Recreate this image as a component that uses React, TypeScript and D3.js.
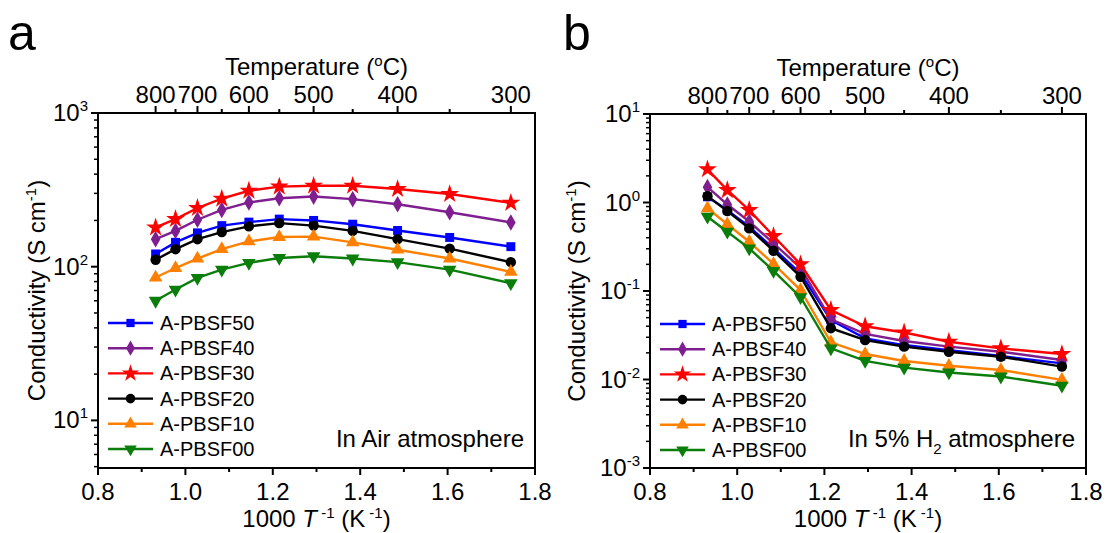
import React from "react";
import * as d3 from "d3";

const temps = [800, 750, 700, 650, 600, 550, 500, 450, 400, 350, 300];
const seriesNames = ["A-PBSF50", "A-PBSF40", "A-PBSF30", "A-PBSF20", "A-PBSF10", "A-PBSF00"];
const seriesColors = ["#0000ff", "#7f1f8f", "#ff0000", "#000000", "#ff8000", "#0a7d0a"];

const airPBSF50 = [121, 144, 166, 185, 195, 204, 200, 189, 172, 155, 135];
const airPBSF40 = [151, 171, 202, 234, 262, 279, 286, 275, 255, 226, 194];
const airPBSF30 = [180, 204, 241, 277, 312, 332, 336, 336, 320, 297, 260];
const airPBSF20 = [111, 130, 151, 168, 183, 192, 185, 171, 151, 131, 107];
const airPBSF10 = [85, 98, 113, 130, 146, 156, 157, 144, 129, 113, 92.5];
const airPBSF00 = [60, 71, 84.5, 95.7, 106, 114, 117, 113, 107, 95.7, 78];

const h2PBSF50 = [1.16, 0.82, 0.533, 0.303, 0.158, 0.047, 0.0292, 0.0245, 0.0215, 0.0184, 0.0152];
const h2PBSF40 = [1.49, 0.95, 0.61, 0.346, 0.183, 0.0479, 0.0327, 0.0272, 0.0235, 0.0206, 0.0166];
const h2PBSF30 = [2.37, 1.38, 0.82, 0.418, 0.2, 0.061, 0.04, 0.034, 0.0267, 0.0225, 0.0194];
const h2PBSF20 = [1.18, 0.8, 0.51, 0.285, 0.145, 0.038, 0.0279, 0.0235, 0.0206, 0.0181, 0.014];
const h2PBSF10 = [0.86, 0.567, 0.36, 0.202, 0.1026, 0.0263, 0.0194, 0.0162, 0.0143, 0.0128, 0.0099];
const h2PBSF00 = [0.69, 0.468, 0.303, 0.169, 0.085, 0.0225, 0.0162, 0.0136, 0.012, 0.0108, 0.0085];

const bottomTicks = [0.8, 1.0, 1.2, 1.4, 1.6, 1.8];
const bottomMinor = [0.9, 1.1, 1.3, 1.5, 1.7];
const topMajor = [800, 700, 600, 500, 400, 300];
const topMinor = [750, 650, 550, 450, 350];

const symbolTypes = [d3.symbolSquare, d3.symbolDiamond, d3.symbolStar, d3.symbolCircle, d3.symbolTriangle, d3.symbolTriangle];
const symbolSizes = [80, 80, 110, 85, 80, 80];

const FONT = "'Liberation Sans', Arial, Helvetica, sans-serif";
const FS = 24;
const SUP = 15;

function Marker({ i, x, y, scale = 1 }: { i: number; x: number; y: number; scale?: number }) {
  const path = d3.symbol().type(symbolTypes[i]).size(symbolSizes[i] * scale)() as string;
  const rot = i === 5 ? 180 : 0;
  return <path d={path} transform={`translate(${x},${y}) rotate(${rot})`} fill={seriesColors[i]} stroke="none" />;
}

function Panel({
  left, right, top, bottom, yDomain, decades, data, note, letter, letterX, yLabelX,
}: {
  left: number; right: number; top: number; bottom: number; yDomain: [number, number];
  decades: number[]; data: number[][]; note: React.ReactNode; letter: string; letterX: number; yLabelX: number;
}) {
  const x = d3.scaleLinear().domain([0.8, 1.8]).range([left, right]);
  const y = d3.scaleLog().domain(yDomain).range([bottom, top]);
  const invT = (t: number) => 1000 / (t + 273.15);
  const minorY: number[] = [];
  for (let e = Math.floor(Math.log10(yDomain[0])); e < Math.log10(yDomain[1]); e++) {
    for (let m = 2; m <= 9; m++) {
      const v = m * Math.pow(10, e);
      if (v >= yDomain[0] && v <= yDomain[1]) minorY.push(v);
    }
  }
  const line = d3.line<number>().x((_, k) => x(invT(temps[k]))).y((v) => y(v));
  const cx = (left + right) / 2;
  const legendX = left + 10;
  const legendY0 = top + 210;
  const legendStep = 25.2;
  return (
    <g fontFamily={FONT}>
      <text x={letterX} y={50} fontSize={50} fill="#000">{letter}</text>
      <rect x={left} y={top} width={right - left} height={bottom - top} fill="none" stroke="#000" strokeWidth={2} />
      {bottomTicks.map((t) => (
        <g key={"b" + t}>
          <line x1={x(t)} x2={x(t)} y1={bottom} y2={bottom + 7} stroke="#000" strokeWidth={2} />
          <text x={x(t)} y={bottom + 32} fontSize={FS} textAnchor="middle">{t.toFixed(1)}</text>
        </g>
      ))}
      {bottomMinor.map((t) => (
        <line key={"bm" + t} x1={x(t)} x2={x(t)} y1={bottom} y2={bottom + 4} stroke="#000" strokeWidth={2} />
      ))}
      <text x={cx} y={bottom + 59} fontSize={FS} textAnchor="middle">
        1000 <tspan fontStyle="italic">T</tspan>
        <tspan dy={-9} fontSize={SUP}> -1</tspan>
        <tspan dy={9}> (K</tspan>
        <tspan dy={-9} fontSize={SUP}> -1</tspan>
        <tspan dy={9}>)</tspan>
      </text>
      {topMajor.map((t) => (
        <g key={"t" + t}>
          <line x1={x(invT(t))} x2={x(invT(t))} y1={top} y2={top - 7} stroke="#000" strokeWidth={2} />
          <text x={x(invT(t))} y={top - 10} fontSize={FS} textAnchor="middle">{t}</text>
        </g>
      ))}
      {topMinor.map((t) => (
        <line key={"tm" + t} x1={x(invT(t))} x2={x(invT(t))} y1={top} y2={top - 4} stroke="#000" strokeWidth={2} />
      ))}
      <text x={cx} y={top - 38} fontSize={FS} textAnchor="middle">
        Temperature (
        <tspan dy={-9} fontSize={SUP}>o</tspan>
        <tspan dy={9}>C)</tspan>
      </text>
      {decades.map((v) => {
        const e = Math.round(Math.log10(v));
        return (
          <g key={"y" + v}>
            <line x1={left} x2={left - 7} y1={y(v)} y2={y(v)} stroke="#000" strokeWidth={2} />
            <text x={left - 10} y={y(v) + 8} fontSize={FS} textAnchor="end">
              10<tspan dy={-10} fontSize={SUP}>{e < 0 ? "-" + (-e) : String(e)}</tspan>
            </text>
          </g>
        );
      })}
      {minorY.map((v) => (
        <line key={"ym" + v} x1={left} x2={left - 4} y1={y(v)} y2={y(v)} stroke="#000" strokeWidth={1.5} />
      ))}
      <text transform={`translate(${yLabelX},${(top + bottom) / 2}) rotate(-90)`} fontSize={FS} textAnchor="middle">
        Conductivity (S cm<tspan dy={-9} fontSize={SUP}>-1</tspan>
        <tspan dy={9}>)</tspan>
      </text>
      {data.map((vals, i) => (
        <g key={"s" + i}>
          <path d={line(vals) as string} fill="none" stroke={seriesColors[i]} strokeWidth={2.4} />
          {vals.map((v, k) => (
            <Marker key={k} i={i} x={x(invT(temps[k]))} y={y(v)} />
          ))}
        </g>
      ))}
      {seriesNames.map((name, i) => {
        const ly = legendY0 + i * legendStep;
        return (
          <g key={"l" + i}>
            <line x1={legendX} x2={legendX + 45} y1={ly} y2={ly} stroke={seriesColors[i]} strokeWidth={2.4} />
            <Marker i={i} x={legendX + 22.5} y={ly} scale={0.85} />
            <text x={legendX + 52} y={ly + 7} fontSize={20}>{name}</text>
          </g>
        );
      })}
      <text x={right - 11} y={bottom - 21} fontSize={FS} textAnchor="end">{note}</text>
    </g>
  );
}

export default function App() {
  return (
    <svg width={1108} height={533} style={{ position: "absolute", left: 0, top: 0, background: "#fff" }}>
      <rect width={1108} height={533} fill="#fff" />
      <Panel
        left={98} right={535} top={113} bottom={468}
        yDomain={[4.9, 1000]} decades={[10, 100, 1000]}
        data={[airPBSF50, airPBSF40, airPBSF30, airPBSF20, airPBSF10, airPBSF00]}
        note={"In Air atmosphere"} letter="a" letterX={8} yLabelX={45}
      />
      <Panel
        left={650} right={1086} top={114} bottom={468}
        yDomain={[0.001, 10]} decades={[0.001, 0.01, 0.1, 1, 10]}
        data={[h2PBSF50, h2PBSF40, h2PBSF30, h2PBSF20, h2PBSF10, h2PBSF00]}
        note={<>In 5% H<tspan dy={7} fontSize={SUP}>2</tspan><tspan dy={-7}> atmosphere</tspan></>}
        letter="b" letterX={563} yLabelX={585}
      />
    </svg>
  );
}
